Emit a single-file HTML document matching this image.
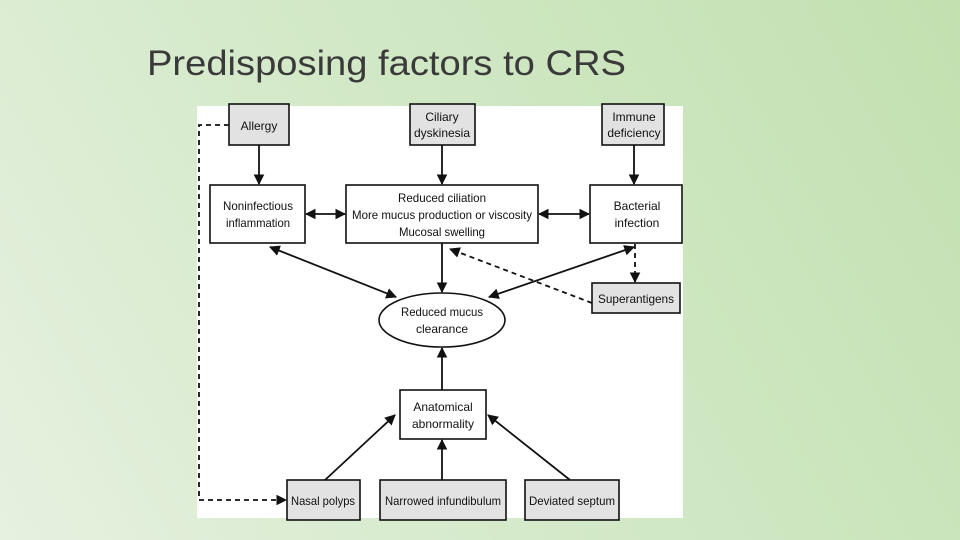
<!DOCTYPE html>
<html><head><meta charset="utf-8"><style>
html,body{margin:0;padding:0;width:960px;height:540px;overflow:hidden}
body{background:linear-gradient(60deg,#e6f1e0 0%,#d3e9c8 45%,#c2e0b0 100%)}
svg{position:absolute;left:0;top:0}
text{font-family:"Liberation Sans",Arial,sans-serif;fill:#111}
</style></head><body>
<svg width="960" height="540" viewBox="0 0 960 540">
<defs>
<marker id="a" viewBox="0 0 10 10" refX="9" refY="5" markerWidth="6" markerHeight="6" orient="auto-start-reverse"><path d="M0,0L10,5L0,10z" fill="#111"/></marker>
</defs>
<text x="147" y="75" font-size="35" textLength="479" lengthAdjust="spacingAndGlyphs" style="fill:#3a3a3a">Predisposing factors to CRS</text>
<rect x="197" y="106" width="486" height="412" fill="#fff"/>
<g stroke="#111" stroke-width="1.6">
<rect x="229" y="104" width="60" height="41" fill="#e2e2e2"/>
<rect x="410" y="104" width="65" height="41" fill="#e2e2e2"/>
<rect x="602" y="104" width="62" height="41" fill="#e2e2e2"/>
<rect x="210" y="185" width="95" height="58" fill="#fff"/>
<rect x="346" y="185" width="192" height="58" fill="#fff"/>
<rect x="590" y="185" width="92" height="58" fill="#fff"/>
<rect x="592" y="283" width="88" height="30" fill="#e2e2e2"/>
<ellipse cx="442" cy="320" rx="63" ry="27" fill="#fff"/>
<rect x="400" y="390" width="86" height="49" fill="#fff"/>
<rect x="287" y="480" width="73" height="40" fill="#e2e2e2"/>
<rect x="380" y="480" width="126" height="40" fill="#e2e2e2"/>
<rect x="525" y="480" width="94" height="40" fill="#e2e2e2"/>
</g>
<g stroke="#111" stroke-width="1.8" fill="none" marker-end="url(#a)">
<line x1="259" y1="145" x2="259" y2="184"/>
<line x1="442" y1="145" x2="442" y2="184"/>
<line x1="634" y1="145" x2="634" y2="184"/>
<line x1="306" y1="214" x2="345" y2="214" marker-start="url(#a)"/>
<line x1="539" y1="214" x2="589" y2="214" marker-start="url(#a)"/>
<line x1="270" y1="247" x2="396" y2="297" marker-start="url(#a)"/>
<line x1="634" y1="247" x2="489" y2="297" marker-start="url(#a)"/>
<line x1="442" y1="243" x2="442" y2="292"/>
<line x1="442" y1="390" x2="442" y2="348"/>
<line x1="325" y1="480" x2="395" y2="415"/>
<line x1="442" y1="480" x2="442" y2="440"/>
<line x1="570" y1="480" x2="488" y2="415"/>
<line x1="592" y1="303" x2="450" y2="249" stroke-dasharray="5,4"/>
<line x1="635" y1="244" x2="635" y2="282" stroke-dasharray="5,4"/>
<polyline points="229,125 199,125 199,500 286,500" stroke-dasharray="5,4"/>
</g>
<g font-size="12" text-anchor="middle">
<text x="259" y="130">Allergy</text>
<text x="442" y="121">Ciliary</text><text x="442" y="137">dyskinesia</text>
<text x="634" y="121">Immune</text><text x="634" y="137">deficiency</text>
<text x="258" y="210" textLength="70" lengthAdjust="spacingAndGlyphs">Noninfectious</text><text x="258" y="227" textLength="64" lengthAdjust="spacingAndGlyphs">inflammation</text>
<text x="442" y="202" textLength="88" lengthAdjust="spacingAndGlyphs">Reduced ciliation</text>
<text x="442" y="219" textLength="180" lengthAdjust="spacingAndGlyphs">More mucus production or viscosity</text>
<text x="442" y="236" textLength="86" lengthAdjust="spacingAndGlyphs">Mucosal swelling</text>
<text x="637" y="210">Bacterial</text><text x="637" y="227">infection</text>
<text x="636" y="303" textLength="76" lengthAdjust="spacingAndGlyphs">Superantigens</text>
<text x="442" y="316" textLength="82" lengthAdjust="spacingAndGlyphs">Reduced mucus</text><text x="442" y="333">clearance</text>
<text x="443" y="411">Anatomical</text><text x="443" y="428">abnormality</text>
<text x="323" y="505" textLength="64" lengthAdjust="spacingAndGlyphs">Nasal polyps</text>
<text x="443" y="505" textLength="116" lengthAdjust="spacingAndGlyphs">Narrowed infundibulum</text>
<text x="572" y="505" textLength="86" lengthAdjust="spacingAndGlyphs">Deviated septum</text>
</g>
</svg>
</body></html>
